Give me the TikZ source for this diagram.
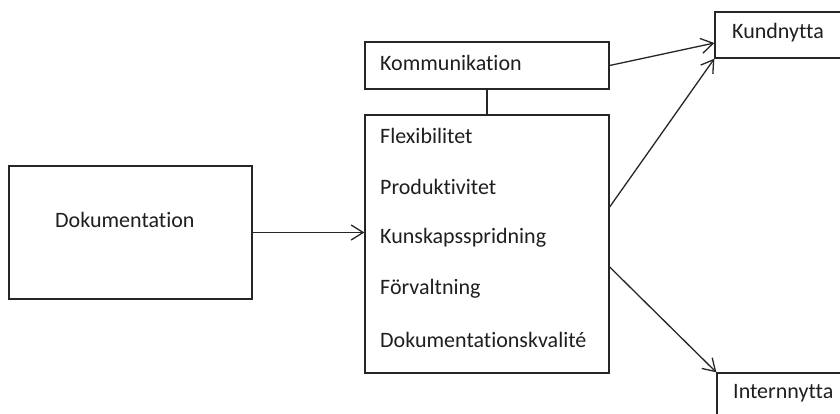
\documentclass[tikz,border=0pt]{standalone}
\usepackage{fontspec}
\setmainfont{Carlito}[Ligatures=NoCommon, RawFeature={-liga;-clig}]
\usetikzlibrary{arrows.meta}
\begin{document}
\begin{tikzpicture}[x=1pt,y=1pt,
  box/.style={draw=black!85, line width=1.3pt, rectangle, inner sep=0pt},
  lbl/.style={anchor=west, inner sep=0pt, text=black!88, font=\fontsize{22}{24}\selectfont},
  conn/.style={draw=black!85, line width=1.3pt},
  arr/.style={conn, -{Straight Barb[length=12pt,width=15pt,line width=1.3pt]}}]
\useasboundingbox (0,0) rectangle (840,-414);
\clip (0,0) rectangle (840,-414);
\fill[white] (0,0) rectangle (840,-414);

% boxes
\node[box, minimum width=243pt, minimum height=133pt] (dok) at (130.5,-232.5) {};
\node[box, minimum width=244pt, minimum height=47pt] (kom) at (487,-65.5) {};
\node[box, minimum width=244pt, minimum height=258pt] (main) at (487,-244) {};
\node[box, minimum width=160pt, minimum height=46pt] (kund) at (795,-35) {};
\node[box, minimum width=160pt, minimum height=60pt] (intern) at (797,-403) {};

% labels
\node[lbl] (tdok) at (55,-220) {Dokumentation};
\node[lbl] (tkom) at (380,-63) {Kommunikation};
\node[lbl] (t1) at (380,-136) {Flexibilitet};
\node[lbl] (t2) at (380,-187) {Produktivitet};
\node[lbl] (t3) at (380,-238) {Kunskapsspridning};
\node[lbl] (t4) at (380,-289) {Förvaltning};
\node[lbl] (t5) at (380,-340) {Dokumentationskvalité};
\node[lbl] (tkund) at (732,-33) {Kundnytta};
\node[lbl] (tintern) at (733,-393) {Internnytta};

% connectors
\draw[conn] (kom.south) -- (main.north);
\draw[arr] (dok.east) -- (dok.east -| main.west);
\draw[arr] (kom.east) -- ([yshift=-8pt]kund.west);
\draw[arr] ([yshift=37pt]main.east) -- (kund.south west);
\draw[arr] ([yshift=-23pt]main.east) -- (intern.north west);
\end{tikzpicture}
\end{document}
